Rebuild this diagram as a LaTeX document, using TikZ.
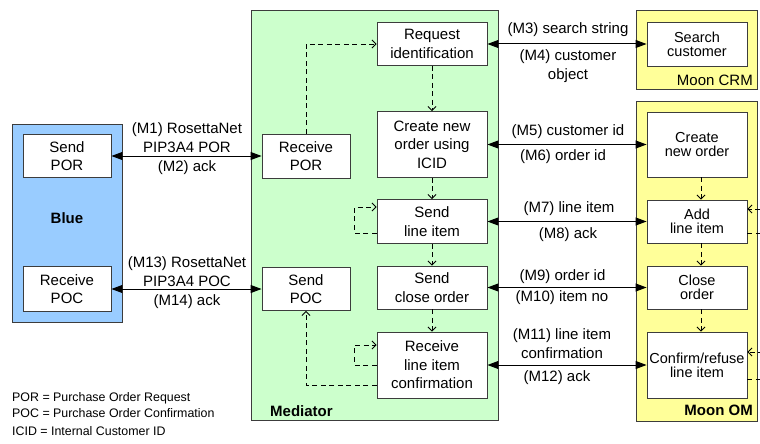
\documentclass[tikz,border=0pt]{standalone}
\usepackage{fontspec}
\setmainfont{Liberation Sans}
\usetikzlibrary{arrows.meta}
\definecolor{bluefill}{RGB}{153,204,255}
\definecolor{greenfill}{RGB}{204,255,204}
\definecolor{yellowfill}{RGB}{255,255,153}
\definecolor{edge}{RGB}{60,60,60}
\tikzset{
  box/.style={draw=edge, fill=white, line width=0.9pt, align=center, inner sep=0pt,
    font=\fontsize{15}{18.5}\selectfont},
  mbox/.style={box, font=\fontsize{14.5}{14}\selectfont},
  cont/.style={draw=edge, line width=1pt, inner sep=0pt},
  lbl/.style={align=center, inner sep=0pt, font=\fontsize{15}{18.5}\selectfont},
  leg/.style={anchor=west, inner sep=0pt, font=\fontsize{12.4}{15}\selectfont},
  msg/.style={line width=1pt, {Triangle[length=11pt,width=8pt]}-{Triangle[length=11pt,width=8pt]}},
  flow/.style={dashed, dash pattern=on 5pt off 3.5pt, line width=0.8pt, -{Straight Barb[length=4pt,width=8pt]}}
}
\begin{document}
\begin{tikzpicture}[x=1pt,y=-1pt]
\useasboundingbox (0,0) rectangle (760,444);
\clip (0,0) rectangle (760,444);
% containers
\node[cont, fill=bluefill, minimum width=110pt, minimum height=198pt] (blue) at (67,223) {};
\node[cont, fill=greenfill, minimum width=247pt, minimum height=409pt] (med) at (374.5,215.5) {};
\node[cont, fill=yellowfill, minimum width=121pt, minimum height=78pt] (crm) at (696.5,50) {};
\node[cont, fill=yellowfill, minimum width=121pt, minimum height=320pt] (om) at (696.5,261) {};
% container labels
\node[lbl, font=\fontsize{15}{18}\selectfont\bfseries] (bluelbl) at (67,218) {Blue};
\node[lbl, anchor=west, font=\fontsize{15}{18}\selectfont\bfseries] (medlbl) at (270,411) {Mediator};
\node[lbl, anchor=east] (crmlbl) at (753,80) {Moon CRM};
\node[lbl, anchor=east, font=\fontsize{15}{18}\selectfont\bfseries] (omlbl) at (753,410) {Moon OM};
% Blue boxes
\node[box, minimum width=88pt, minimum height=43pt] (sendpor) at (67,156) {Send\\POR};
\node[box, minimum width=88pt, minimum height=45pt] (recvpoc) at (67,289) {Receive\\POC};
% Mediator boxes
\node[box, minimum width=110pt, minimum height=43pt] (reqid) at (432,44) {Request\\identification};
\node[box, minimum width=110pt, minimum height=66pt] (icid) at (432,144.5) {Create new\\order using\\ICID};
\node[box, minimum width=88pt, minimum height=44pt] (recvpor) at (306,156) {Receive\\POR};
\node[box, minimum width=110pt, minimum height=44pt] (sendli) at (432,221.5) {Send\\line item};
\node[box, minimum width=110pt, minimum height=43pt] (sendclose) at (432,287.5) {Send\\close order};
\node[box, minimum width=110pt, minimum height=66pt] (recvconf) at (432,365) {Receive\\line item\\confirmation};
\node[box, minimum width=88pt, minimum height=43pt] (sendpoc) at (306,289) {Send\\POC};
% Moon boxes
\node[mbox, minimum width=100pt, minimum height=44pt] (search) at (697,44) {Search\\customer};
\node[mbox, minimum width=100pt, minimum height=65pt] (createom) at (697,144.5) {Create\\new order};
\node[mbox, minimum width=100pt, minimum height=43pt] (addli) at (697,221.5) {Add\\line item};
\node[mbox, minimum width=100pt, minimum height=43pt] (closeo) at (697,287.5) {Close\\order};
\node[mbox, minimum width=100pt, minimum height=66pt] (confirm) at (697,365) {Confirm/refuse\\line item};
% dashed flows in Mediator
\draw[flow] (recvpor.north) |- (reqid.west);
\draw[flow] (reqid.south) -- (icid.north);
\draw[flow] (icid.south) -- (sendli.north);
\draw[flow] (sendli.south) -- (sendclose.north);
\draw[flow] (sendclose.south) -- (recvconf.north);
\draw[flow] ([yshift=-11.5pt]sendli.west) -- ++(-22,0) |- ([yshift=14.5pt]sendli.west);
\draw[flow] (recvconf.west) -- ++(-22,0) |- ([yshift=20pt]recvconf.west);
\draw[flow] ([yshift=-20pt]recvconf.west) -| (sendpoc.south);
% dashed flows in Moon OM
\draw[flow] ([xshift=4pt]createom.south) -- ([xshift=4pt]addli.north);
\draw[flow] ([xshift=4pt]addli.south) -- ([xshift=4pt]closeo.north);
\draw[flow] ([xshift=4pt]closeo.south) -- ([xshift=4pt]confirm.north);
\draw[flow] ([yshift=-11.5pt]addli.east) -- ++(20,0) |- ([yshift=12.5pt]addli.east);
\draw[flow] ([yshift=-14pt]confirm.east) -- ++(20,0) |- ([yshift=13pt]confirm.east);
% messages
\draw[msg] (sendpor.east) -- (recvpor.west);
\draw[msg] (recvpoc.east) -- (sendpoc.west);
\draw[msg] (reqid.east) -- (search.west);
\draw[msg] (icid.east) -- (createom.west);
\draw[msg] (sendli.east) -- (addli.west);
\draw[msg] (sendclose.east) -- (closeo.west);
\draw[msg] (recvconf.east) -- (confirm.west);
% message labels
\node[lbl] (m1) at (187,137.5) {(M1) RosettaNet\\PIP3A4 POR};
\node[lbl] (m2) at (187,168) {(M2) ack};
\node[lbl] (m13) at (187,271.5) {(M13) RosettaNet\\PIP3A4 POC};
\node[lbl] (m14) at (187,302) {(M14) ack};
\node[lbl] (m3) at (568,30) {(M3) search string};
\node[lbl] (m4) at (568,66) {(M4) customer\\object};
\node[lbl] (m5) at (568,132) {(M5) customer id};
\node[lbl] (m6) at (563,157) {(M6) order id};
\node[lbl] (m7) at (569,209) {(M7) line item};
\node[lbl] (m8) at (568,235) {(M8) ack};
\node[lbl] (m9) at (562.5,277) {(M9) order id};
\node[lbl] (m10) at (562,298) {(M10) item no};
\node[lbl] (m11) at (562,343.5) {(M11) line item\\confirmation};
\node[lbl] (m12) at (557,378) {(M12) ack};
% legend
\node[leg] (l1) at (12,398.3) {POR = Purchase Order Request};
\node[leg] (l2) at (12,413.3) {POC = Purchase Order Confirmation};
\node[leg] (l3) at (12,431) {ICID = Internal Customer ID};
\end{tikzpicture}
\end{document}
